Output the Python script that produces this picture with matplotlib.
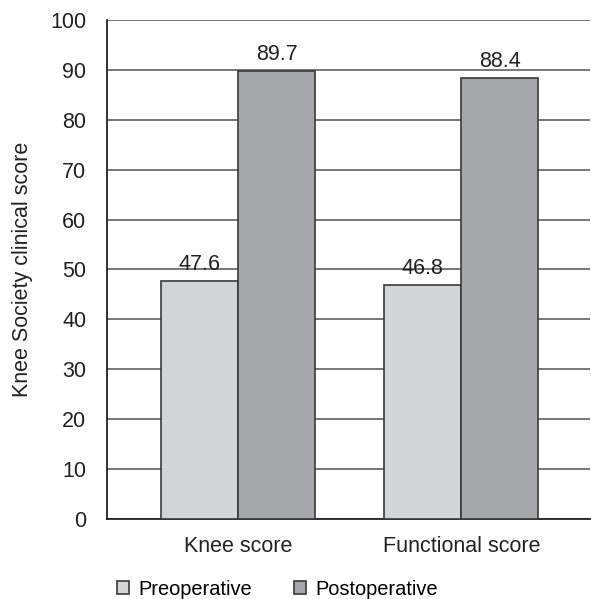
import matplotlib.pyplot as plt
import numpy as np

plt.rcParams['font.family'] = ['Liberation Sans', 'DejaVu Sans']

groups = ['Knee score', 'Functional score']
preop = [47.6, 46.8]
postop = [89.7, 88.4]
series_names = ['Preoperative', 'Postoperative']
yticks = [0, 10, 20, 30, 40, 50, 60, 70, 80, 90, 100]

light = '#d3d4d6'
dark = '#a6a7aa'
edge = '#3a3a3a'
txt = '#222222'

fig = plt.figure(figsize=(5.91, 5.99), dpi=100)
ax = fig.add_axes([0.181, 0.1336, 0.818, 0.833])

x = np.arange(len(groups))
w = 0.345
b1 = ax.bar(x - w / 2, preop, w, color=light, edgecolor=edge, linewidth=1.2,
            label=series_names[0], zorder=3)
b2 = ax.bar(x + w / 2, postop, w, color=dark, edgecolor=edge, linewidth=1.2,
            label=series_names[1], zorder=3)

for bars, vals in [(b1, preop), (b2, postop)]:
    for r, v in zip(bars, vals):
        ax.text(r.get_x() + r.get_width() / 2, v + 1.2, f'{v:.1f}',
                ha='center', va='bottom', fontsize=15.5, color=txt)

ax.set_ylim(0, 100)
ax.set_xlim(-0.587, 1.578)
ax.set_yticks(yticks)
ax.set_xticks(x)
ax.set_xticklabels(groups)
ax.tick_params(axis='y', length=0, pad=15, labelsize=15.5, colors=txt)
ax.tick_params(axis='x', length=0, pad=12, labelsize=15.5, colors=txt)
ax.yaxis.grid(True, color='#777777', linewidth=1.4, zorder=0)
ax.set_axisbelow(True)

for s in ['top', 'right']:
    ax.spines[s].set_visible(False)
for s in ['left', 'bottom']:
    ax.spines[s].set_color(txt)
    ax.spines[s].set_linewidth(1.3)

ax.set_ylabel('Knee Society clinical score', fontsize=15.5, color=txt,
              labelpad=12)

fig.legend(handles=[b1, b2], loc='center', bbox_to_anchor=(0.4695, 0.016),
           ncol=2, frameon=False, fontsize=14.4, handlelength=0.62,
           handleheight=0.62, handletextpad=0.45, columnspacing=2.1)

fig.savefig('out.png', dpi=100)
